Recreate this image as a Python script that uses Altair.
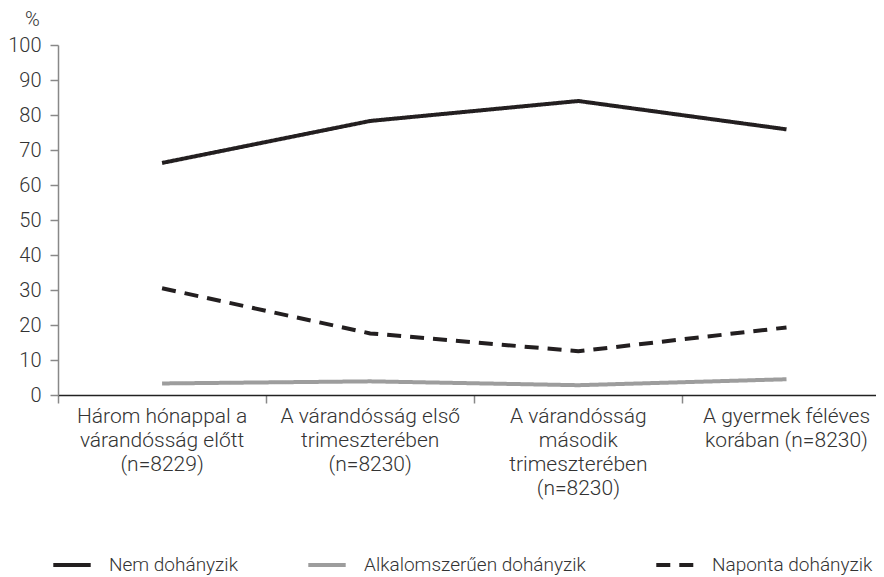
import altair as alt
import pandas as pd

categories = [
    "Három hónappal a\nvárandósság előtt\n(n=8229)",
    "A várandósság első\ntrimeszterében\n(n=8230)",
    "A várandósság\nmásodik\ntrimeszterében\n(n=8230)",
    "A gyermek féléves\nkorában (n=8230)",
]
series = ["Nem dohányzik", "Alkalomszerűen dohányzik", "Naponta dohányzik"]
nem = [66.3, 78.3, 84.0, 75.9]
alkalom = [3.3, 3.9, 2.8, 4.5]
naponta = [30.5, 17.6, 12.5, 19.3]
y_ticks = list(range(0, 101, 10))

FONT = "Roboto"
TXT = "#333333"

rows = []
for s, vals in zip(series, [nem, alkalom, naponta]):
    for i, v in enumerate(vals):
        rows.append({"series": s, "pos": i, "value": v})
df = pd.DataFrame(rows)
labdf = pd.DataFrame({"pos": list(range(len(categories))), "label": categories})

legend = alt.Legend(
    title=None, orient="none", legendX=-7, legendY=499, direction="horizontal",
    symbolType="stroke", symbolSize=1400, symbolStrokeWidth=4, labelFont=FONT,
    labelFontSize=19, labelColor=TXT, labelFontWeight=300, columnPadding=62,
    labelOffset=16, labelLimit=0
)

lines = alt.Chart(df).mark_line(strokeWidth=4, strokeCap="butt").encode(
    x=alt.X("pos:Q",
            scale=alt.Scale(domain=[-0.5, 3.43], nice=False, zero=False),
            axis=alt.Axis(values=[-0.5, 0.5, 1.5, 2.5], labels=False, title=None,
                          domainColor="#222", domainWidth=1.5, tickColor="#888",
                          tickWidth=1.5, tickSize=8, grid=False)),
    y=alt.Y("value:Q",
            scale=alt.Scale(domain=[0, 100], nice=False),
            axis=alt.Axis(values=y_ticks, title="%", titleAngle=0, titleX=-26, titleY=-26,
                          titleAlign="center", titleBaseline="middle", titleFont=FONT,
                          titleFontSize=20, titleFontWeight=300, titleColor=TXT,
                          labelFont=FONT, labelFontSize=20, labelFontWeight=300,
                          labelColor=TXT, labelPadding=9, tickSize=8, tickColor="#888",
                          tickWidth=1.5, domainColor="#888", domainWidth=1.5, grid=False)),
    color=alt.Color("series:N", sort=series,
                    scale=alt.Scale(domain=series, range=["#231f20", "#9d9d9d", "#231f20"]),
                    legend=legend),
    strokeDash=alt.StrokeDash("series:N", sort=series,
                              scale=alt.Scale(domain=series, range=[[1, 0], [1, 0], [14, 9]]),
                              legend=legend),
)

labels = alt.Chart(labdf).mark_text(
    font=FONT, fontSize=21, fontWeight=300, lineBreak="\n", baseline="top",
    align="center", lineHeight=24, color=TXT
).encode(
    x=alt.X("pos:Q"),
    y=alt.value(361),
    text="label:N",
)

chart = alt.layer(lines, labels).properties(
    width=818, height=350,
    autosize=alt.AutoSizeParams(type="none"),
    padding={"left": 50, "top": 37, "right": 0, "bottom": 180},
).configure_view(stroke=None)

chart.save("out.html", embed_options={"renderer": "svg", "actions": False})
